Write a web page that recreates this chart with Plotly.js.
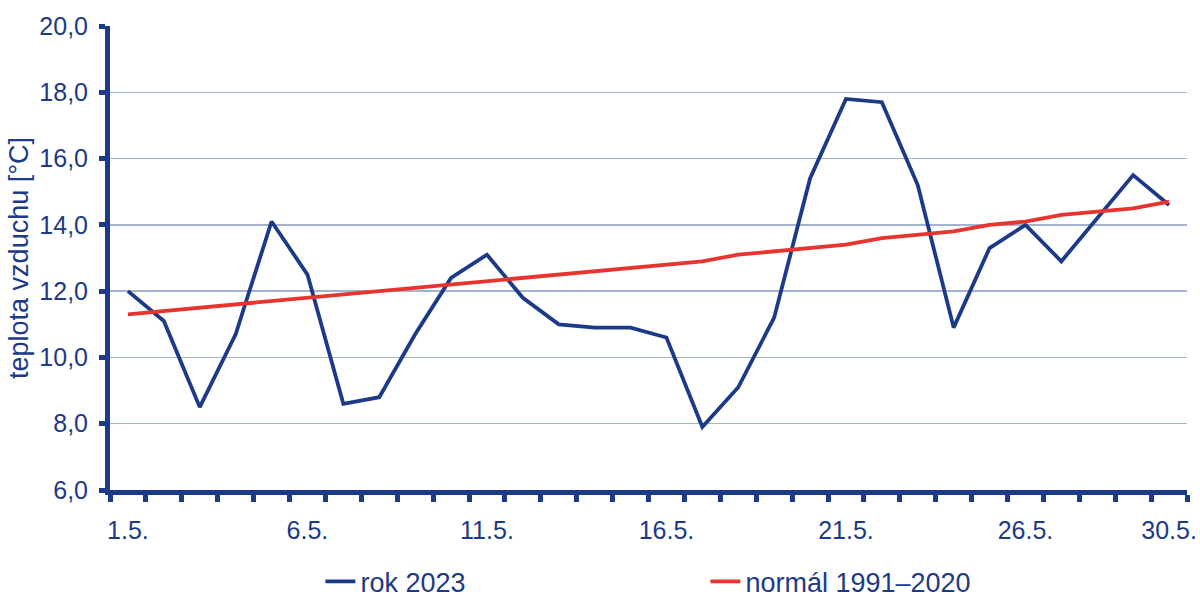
<!DOCTYPE html>
<html>
<head>
<meta charset="utf-8">
<script src="https://cdn.plot.ly/plotly-3.0.1.min.js"></script>
<style>html,body{margin:0;padding:0;background:#fff;}#chart{width:1200px;height:601px;}</style>
</head>
<body>
<div id="chart"></div>
<script>
const days = [1,2,3,4,5,6,7,8,9,10,11,12,13,14,15,16,17,18,19,20,21,22,23,24,25,26,27,28,29,30];
const temp2023 = [12.0,11.1,8.5,10.7,14.1,12.5,8.6,8.8,10.7,12.4,13.1,11.8,11.0,10.9,10.9,10.6,7.9,9.1,11.2,15.4,17.8,17.7,15.2,10.9,13.3,14.0,12.9,14.2,15.5,14.6];
const normal = [11.3,11.4,11.5,11.6,11.7,11.8,11.9,12.0,12.1,12.2,12.3,12.4,12.5,12.6,12.7,12.8,12.9,13.1,13.2,13.3,13.4,13.6,13.7,13.8,14.0,14.1,14.3,14.4,14.5,14.7];
const tickDays = [1,6,11,16,21,26,30];
const tickLabels = ['1.5.','6.5.','11.5.','16.5.','21.5.','26.5.','30.5.'];
const yTicks = [6,8,10,12,14,16,18,20];
const yLabels = ['6,0','8,0','10,0','12,0','14,0','16,0','18,0','20,0'];
const seriesNames = ['rok 2023','normál 1991–2020'];

const navy = '#1c3a87';
const red = '#e8342f';
const boundaries = [days[0]-0.5].concat(days.map(d => d + 0.5));

const traces = [
  {x: days, y: temp2023, type: 'scatter', mode: 'lines', name: seriesNames[0],
   line: {color: navy, width: 3.8}},
  {x: days, y: normal, type: 'scatter', mode: 'lines', name: seriesNames[1],
   line: {color: red, width: 3.8}}
];

const layout = {
  width: 1200, height: 601,
  margin: {l: 110, r: 13, t: 26, b: 111},
  paper_bgcolor: '#fff', plot_bgcolor: '#fff',
  font: {family: 'Liberation Sans, Arial, sans-serif', color: navy, size: 25},
  showlegend: true,
  legend: {orientation: 'h', xref: 'container', yref: 'container',
    x: 0.267, xanchor: 'left', y: 0.032, yanchor: 'middle',
    font: {size: 27, color: navy}, entrywidth: 340, entrywidthmode: 'pixels',
    tracegroupgap: 0, borderwidth: 0,
    bgcolor: 'rgba(0,0,0,0)'},
  xaxis: {
    range: [0.5, 30.5], tickmode: 'array', tickvals: tickDays, ticktext: tickLabels,
    ticks: '', showgrid: false, zeroline: false,
    showline: true, linecolor: navy, linewidth: 5,
    ticklabelstandoff: 14,
    minor: {tickmode: 'array', tickvals: boundaries, ticks: 'outside', ticklen: 7, tickwidth: 5, tickcolor: navy, showgrid: false},
    tickfont: {size: 25, color: navy}
  },
  yaxis: {
    range: [6, 20], tickmode: 'array', tickvals: yTicks, ticktext: yLabels,
    ticks: 'outside', ticklen: 6, tickwidth: 5, tickcolor: navy,
    ticklabelstandoff: 6,
    showgrid: true, gridcolor: '#a3b2cf', gridwidth: 1.5, zeroline: false,
    showline: true, linecolor: navy, linewidth: 5,
    tickfont: {size: 25, color: navy},
    title: {text: 'teplota vzduchu [°C]', font: {size: 27, color: navy}, standoff: 4}
  }
};

Plotly.newPlot('chart', traces, layout, {displayModeBar: false, staticPlot: true});
</script>
</body>
</html>
